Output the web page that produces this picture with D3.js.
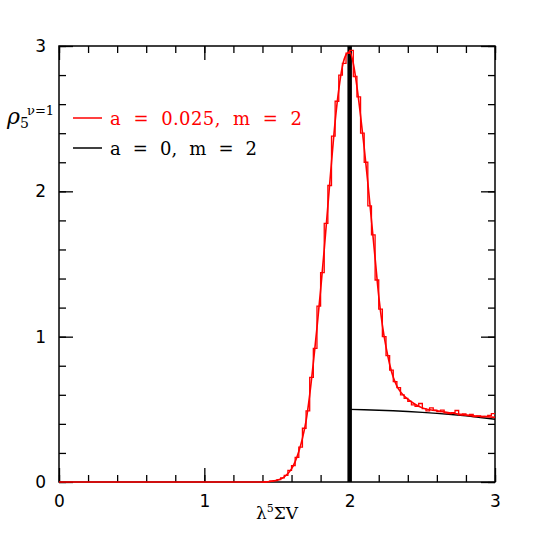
<!DOCTYPE html>
<html><head><meta charset="utf-8">
<script src="https://cdn.jsdelivr.net/npm/d3@7"></script>
<style>body{margin:0;background:#fff}</style>
</head><body><svg id="c" width="540" height="540"></svg>
<script>
// smooth red curve (a = 0.025, m = 2)
const curveX = [0.0, 1.40, 1.45, 1.50, 1.525, 1.55, 1.575, 1.60, 1.625, 1.65, 1.675, 1.70, 1.725, 1.75, 1.775, 1.80, 1.825, 1.85, 1.875, 1.90, 1.925, 1.95, 1.975, 2.00, 2.025, 2.05, 2.075, 2.10, 2.125, 2.15, 2.175, 2.20, 2.225, 2.25, 2.275, 2.30, 2.325, 2.35, 2.40, 2.45, 2.50, 2.60, 2.70, 2.80, 2.90, 3.00];
const curveY = [0.0, 0.000, 0.004, 0.012, 0.020, 0.035, 0.058, 0.090, 0.140, 0.210, 0.300, 0.420, 0.600, 0.820, 1.060, 1.320, 1.600, 1.900, 2.200, 2.480, 2.700, 2.860, 2.940, 2.960, 2.880, 2.720, 2.520, 2.300, 2.060, 1.800, 1.540, 1.280, 1.080, 0.930, 0.810, 0.720, 0.660, 0.620, 0.570, 0.535, 0.510, 0.490, 0.475, 0.460, 0.452, 0.445];
// histogram (bins of 0.025 starting at 1.4)
const histStart = 1.4, histBin = 0.025;
const histY = [0.000, 0.002, 0.006, 0.010, 0.016, 0.028, 0.045, 0.080, 0.112, 0.170, 0.240, 0.370, 0.490, 0.720, 0.920, 1.210, 1.440, 1.780, 2.040, 2.380, 2.620, 2.800, 2.880, 2.950, 2.970, 2.790, 2.650, 2.400, 2.200, 1.900, 1.700, 1.390, 1.190, 1.000, 0.870, 0.770, 0.690, 0.650, 0.600, 0.575, 0.555, 0.530, 0.520, 0.540, 0.505, 0.490, 0.510, 0.495, 0.485, 0.495, 0.475, 0.470, 0.478, 0.492, 0.462, 0.468, 0.458, 0.466, 0.450, 0.455, 0.448, 0.452, 0.458, 0.470];
// black curve (a = 0, m = 2)
const blackX = [2.0, 2.1, 2.2, 2.3, 2.4, 2.5, 2.6, 2.7, 2.8, 2.9, 3.0];
const blackY = [0.500, 0.497, 0.494, 0.490, 0.485, 0.479, 0.472, 0.464, 0.455, 0.444, 0.432];
const deltaX = 2.0;
const xTicks = [0, 1, 2, 3];
const yTicks = [0, 1, 2, 3];
const legendLabels = ["a  =  0.025,  m  =  2", "a  =  0,  m  =  2"];
const legendColors = ["#ff0000", "#000000"];

const svg = d3.select("#c");
const x = d3.scaleLinear().domain([0, 3]).range([59, 495]);
const y = d3.scaleLinear().domain([0, 3]).range([482, 46]);
const minor = d3.range(0, 3.001, 0.2);
const tickFont = "DejaVu Sans";

function styleAxis(g) {
  g.select(".domain").remove();
  g.selectAll("line").attr("stroke", "#000").attr("stroke-width", 1.3);
  g.selectAll("text").attr("font-family", tickFont).attr("font-size", 17).attr("fill", "#000");
}
// minor ticks
svg.append("g").attr("transform", "translate(0,482)").call(d3.axisBottom(x).tickValues(minor).tickSize(-7).tickFormat("")).call(styleAxis);
svg.append("g").attr("transform", "translate(0,46)").call(d3.axisTop(x).tickValues(minor).tickSize(-7).tickFormat("")).call(styleAxis);
svg.append("g").attr("transform", "translate(59,0)").call(d3.axisLeft(y).tickValues(minor).tickSize(-7).tickFormat("")).call(styleAxis);
svg.append("g").attr("transform", "translate(495,0)").call(d3.axisRight(y).tickValues(minor).tickSize(-7).tickFormat("")).call(styleAxis);
// major ticks
svg.append("g").attr("transform", "translate(0,482)").call(d3.axisBottom(x).tickValues(xTicks).tickSize(-14).tickPadding(13).tickFormat(d3.format("d"))).call(styleAxis);
svg.append("g").attr("transform", "translate(0,46)").call(d3.axisTop(x).tickValues(xTicks).tickSize(-14).tickFormat("")).call(styleAxis);
svg.append("g").attr("transform", "translate(59,0)").call(d3.axisLeft(y).tickValues(yTicks).tickSize(-14).tickPadding(13).tickFormat(d3.format("d"))).call(styleAxis);
svg.append("g").attr("transform", "translate(495,0)").call(d3.axisRight(y).tickValues(yTicks).tickSize(-14).tickFormat("")).call(styleAxis);
// frame
svg.append("rect").attr("x", x(0)).attr("y", y(3)).attr("width", x(3) - x(0)).attr("height", y(0) - y(3))
  .attr("fill", "none").attr("stroke", "#000").attr("stroke-width", 1.5);

// black curve
const line = d3.line().x(d => x(d[0])).y(d => y(d[1]));
svg.append("path").datum(blackX.map((v, i) => [v, blackY[i]]))
  .attr("d", line).attr("fill", "none").attr("stroke", "#000").attr("stroke-width", 1.4);
// delta function at x = 2
svg.append("line").attr("x1", x(deltaX)).attr("x2", x(deltaX)).attr("y1", y(0)).attr("y2", y(3))
  .attr("stroke", "#000").attr("stroke-width", 4.5);

// red smooth curve
svg.append("path").datum(curveX.map((v, i) => [v, curveY[i]]))
  .attr("d", line.curve(d3.curveMonotoneX)).attr("fill", "none").attr("stroke", "#ff0000").attr("stroke-width", 1.6);
// red histogram
const histPts = [[histStart, 0]].concat(histY.map((v, i) => [histStart + i * histBin, v]));
histPts.push([histStart + histY.length * histBin, histY[histY.length - 1]]);
svg.append("path").datum(histPts)
  .attr("d", d3.line().x(d => x(d[0])).y(d => y(d[1])).curve(d3.curveStepAfter))
  .attr("fill", "none").attr("stroke", "#ff0000").attr("stroke-width", 1.3);

// legend
const lg = svg.append("g");
legendLabels.forEach((t, i) => {
  const yy = 118 + i * 30;
  lg.append("line").attr("x1", 73).attr("x2", 102).attr("y1", yy).attr("y2", yy)
    .attr("stroke", legendColors[i]).attr("stroke-width", 1.5);
  lg.append("text").attr("x", 110).attr("y", yy + 6.5).text(t)
    .style("white-space", "pre").attr("xml:space", "preserve")
    .attr("font-family", "DejaVu Serif").attr("font-size", 18).attr("fill", legendColors[i])
    .attr("textLength", i === 0 ? 192 : 147).attr("lengthAdjust", "spacing");
});

// x axis label
const xl = svg.append("text").attr("x", 277).attr("y", 519).attr("text-anchor", "middle")
  .attr("font-family", "DejaVu Serif").attr("font-size", 17).attr("fill", "#000");
xl.append("tspan").text("λ");
xl.append("tspan").attr("dy", -7).attr("font-size", 11).text("5");
xl.append("tspan").attr("dy", 7).text("ΣV");

// y axis label
const yl = svg.append("text").attr("x", 7).attr("y", 124)
  .attr("font-family", "DejaVu Serif").attr("fill", "#000");
yl.append("tspan").attr("font-size", 22).attr("font-style", "italic").text("ρ");
yl.append("tspan").attr("font-size", 14).attr("dy", 4).text("5");
svg.append("text").attr("x", 27).attr("y", 115).attr("font-family", "DejaVu Serif")
  .attr("font-size", 13).attr("fill", "#000").text("ν=1");
</script>
</body></html>
